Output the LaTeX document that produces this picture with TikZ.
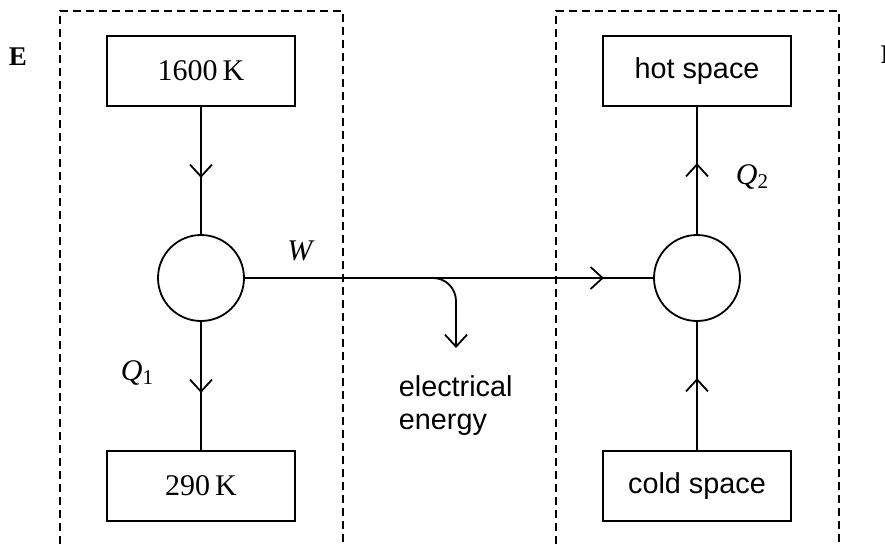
\documentclass[tikz,border=0pt]{standalone}
\usepackage{fontspec}
\setmainfont{Liberation Serif}
\setsansfont{Liberation Sans}
\usetikzlibrary{arrows.meta,decorations.markings}
\begin{document}
\begin{tikzpicture}[x=1pt,y=-1pt,
  line width=1.8pt,
  serifbig/.style={font=\fontsize{30}{34}\selectfont},
  sansbig/.style={font=\sffamily\fontsize{28.8}{33}\selectfont},
  resbox/.style={draw, rectangle, minimum width=188pt, minimum height=70pt, inner sep=0pt},
  engine/.style={draw, circle, minimum size=86pt, inner sep=0pt},
  dashbox/.style={line width=1.6pt, dash pattern=on 8pt off 5pt},
  midarrow/.style={postaction={decorate}, decoration={markings,
     mark=at position #1 with {\arrow[line width=1.8pt]{Straight Barb[length=12pt,width=22pt]}}}},
  barb/.style={-{Straight Barb[length=12pt,width=22pt]}},
  lbl/.style={inner sep=0pt}
]
\useasboundingbox (0,0) rectangle (885,544);
% dashed enclosures
\draw[dashbox] (60,544) -- (60,11) -- (343,11) -- (343,544);
\draw[dashbox] (556,544) -- (556,11) -- (839,11) -- (839,544);
% boxes
\node[resbox, serifbig] (hotres) at (201,71) {1600\,K};
\node[resbox, serifbig] (coldres) at (201,486) {290\,K};
\node[resbox, sansbig] (hotsp) at (697,71) {hot space};
\node[resbox, sansbig] (coldsp) at (697,486) {cold space};
\node[engine] (eng) at (201,278) {};
\node[engine] (pump) at (697,278) {};
% connectors
\draw[midarrow=71pt] (hotres.south) -- (eng.north);
\draw[midarrow=71pt] (eng.south) -- (coldres.north);
\draw[midarrow=71pt] (pump.north) -- (hotsp.south);
\draw[midarrow=72pt] (coldsp.north) -- (pump.south);
\draw[midarrow=359pt] (eng.east) -- (pump.west);
\coordinate (brstart) at (433,278);
\coordinate (brend) at (456,348);
\draw[barb, rounded corners=23pt] (brstart) -| (brend);
% labels
\node[lbl, font=\bfseries\fontsize{27}{30}\selectfont] (elab) at (18,57) {E};
\node[lbl, font=\bfseries\fontsize{27}{30}\selectfont, anchor=west] (plab) at (880,55) {P};
\node[lbl, serifbig] (wlab) at (301,251) {\textit{W}};
\node[lbl, serifbig] (q1lab) at (137,373) {\textit{Q}\raisebox{-4pt}{\fontsize{21}{21}\selectfont 1}};
\node[lbl, serifbig] (q2lab) at (752,177) {\textit{Q}\raisebox{-4pt}{\fontsize{21}{21}\selectfont 2}};
\node[lbl, sansbig, align=left, anchor=north west] (elec) at (398,375) {electrical\\energy};
\end{tikzpicture}
\end{document}
